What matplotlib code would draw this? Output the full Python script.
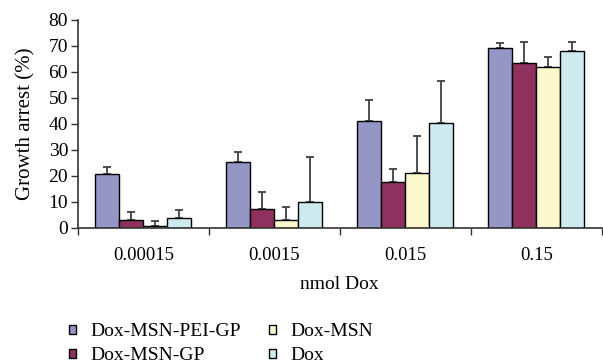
import numpy as np
import matplotlib.pyplot as plt

doses = ['0.00015', '0.0015', '0.015', '0.15']
series = ['Dox-MSN-PEI-GP', 'Dox-MSN-GP', 'Dox-MSN', 'Dox']
pei_gp = [20.8, 25.5, 41.0, 69.1]
msn_gp = [3.1, 7.4, 17.8, 63.6]
msn = [0.9, 3.1, 21.3, 61.8]
dox = [3.7, 10.1, 40.5, 68.2]
pei_gp_err = [2.5, 3.6, 8.4, 2.2]
msn_gp_err = [3.2, 6.6, 5.0, 7.9]
msn_err = [1.9, 4.9, 14.1, 4.1]
dox_err = [3.2, 17.3, 16.2, 3.3]

colors = ['#9595c6', '#90305e', '#fbf8cc', '#cdebee']

plt.rcParams['font.family'] = ['Liberation Serif', 'DejaVu Serif']

fig = plt.figure(figsize=(6.03, 3.63), dpi=100)
ax = fig.add_axes([0.129, 0.372, 0.869, 0.573])

x = np.arange(len(doses))
w = 0.183
vals = [pei_gp, msn_gp, msn, dox]
errs = [pei_gp_err, msn_gp_err, msn_err, dox_err]
for i in range(4):
    pos = x + (i - 1.5) * w
    ax.bar(pos, vals[i], w, color=colors[i], edgecolor='black', linewidth=1.0,
           label=series[i], zorder=2)
    ax.errorbar(pos, vals[i], yerr=[np.zeros(4), errs[i]], fmt='none',
                ecolor='#404040', elinewidth=1.3, capsize=3, capthick=1.3, zorder=1)

ax.set_xlim(-0.5, 3.5)
ax.set_ylim(0, 80)
ax.set_yticks(range(0, 81, 10))
ax.set_xticks(np.arange(-0.5, 4, 1))
ax.set_xticklabels([])
ax.set_xticks(x, minor=True)
ax.set_xticklabels(doses, minor=True)
ax.tick_params(axis='x', which='major', length=5, direction='out', width=1, color='#333333')
ax.tick_params(axis='x', which='minor', length=0, pad=14, labelsize=13.5)
ax.tick_params(axis='y', length=5, width=1, color='#333333', labelsize=14, pad=2)
for s in ['top', 'right']:
    ax.spines[s].set_visible(False)
for s in ['left', 'bottom']:
    ax.spines[s].set_color('#333333')
    ax.spines[s].set_linewidth(1.2)

ax.set_ylabel('Growth arrest (%)', fontsize=15, labelpad=9)
ax.set_xlabel('nmol Dox', fontsize=14, labelpad=8)

ax.legend(loc='upper left', bbox_to_anchor=(-0.05, -0.375), ncol=2, frameon=False,
          fontsize=14, handlelength=0.35, handleheight=0.35, handletextpad=0.75,
          columnspacing=1.45, labelspacing=0.35)

fig.savefig('out.png', dpi=100)
